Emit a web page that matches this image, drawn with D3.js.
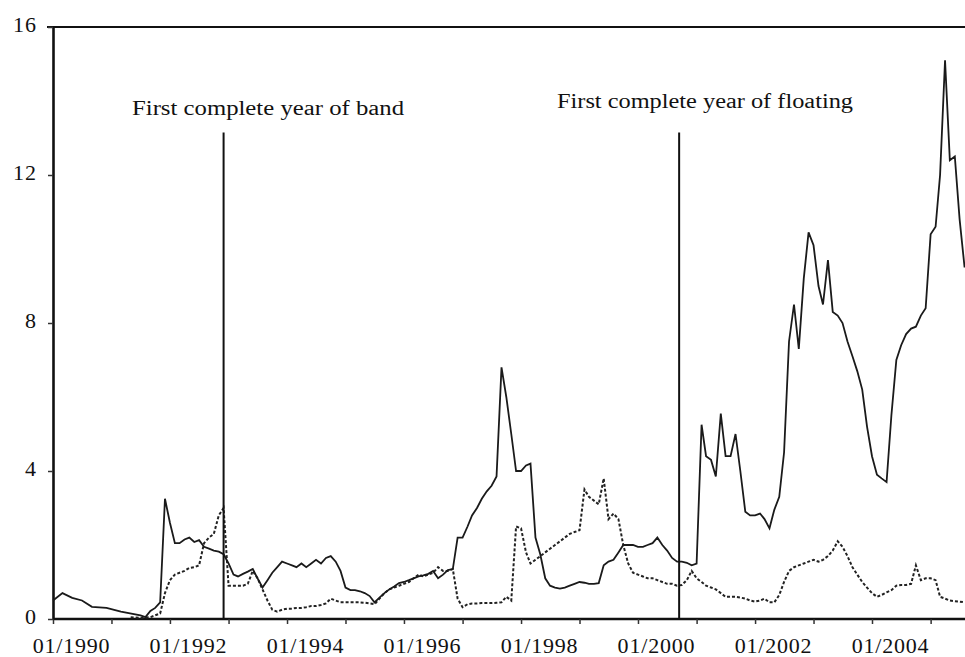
<!DOCTYPE html>
<html>
<head>
<meta charset="utf-8">
<script src="https://cdn.jsdelivr.net/npm/d3@7"></script>
<style>
  body { margin: 0; background: #fff; }
  svg { display: block; }
  svg text { font-family: "Liberation Serif", "Times New Roman", Times, serif; fill: #111; }
</style>
</head>
<body>
<svg id="chart" width="965" height="657"></svg>
<script>
// monthly readings, solid line
var solidSeries = [
  ["1990-01",0.5],["1990-03",0.7],["1990-05",0.57],["1990-07",0.5],["1990-09",0.33],["1990-12",0.3],
  ["1991-03",0.2],["1991-07",0.1],["1991-08",0.05],["1991-09",0.22],["1991-10",0.3],["1991-11",0.45],["1991-12",3.25],
  ["1992-01",2.6],["1992-02",2.05],["1992-03",2.05],["1992-04",2.15],["1992-05",2.2],["1992-06",2.08],
  ["1992-07",2.13],["1992-08",1.95],["1992-09",1.9],["1992-10",1.85],["1992-11",1.82],["1992-12",1.75],
  ["1993-01",1.5],["1993-02",1.2],["1993-03",1.15],["1993-04",1.22],["1993-05",1.28],["1993-06",1.35],
  ["1993-07",1.1],["1993-08",0.85],["1993-09",1.05],["1993-10",1.25],["1993-11",1.4],["1993-12",1.55],
  ["1994-01",1.5],["1994-02",1.45],["1994-03",1.4],["1994-04",1.5],["1994-05",1.4],["1994-06",1.5],
  ["1994-07",1.6],["1994-08",1.5],["1994-09",1.65],["1994-10",1.7],["1994-11",1.55],["1994-12",1.3],
  ["1995-01",0.85],["1995-02",0.78],["1995-03",0.78],["1995-04",0.75],["1995-05",0.7],["1995-06",0.62],
  ["1995-07",0.45],["1995-08",0.58],["1995-09",0.7],["1995-10",0.8],["1995-11",0.88],["1995-12",0.97],
  ["1996-01",1.0],["1996-02",1.05],["1996-03",1.1],["1996-04",1.15],["1996-05",1.18],["1996-06",1.22],
  ["1996-07",1.3],["1996-08",1.1],["1996-09",1.2],["1996-10",1.32],["1996-11",1.35],["1996-12",2.2],
  ["1997-01",2.2],["1997-02",2.5],["1997-03",2.8],["1997-04",3.0],["1997-05",3.25],["1997-06",3.45],
  ["1997-07",3.6],["1997-08",3.85],["1997-09",6.8],["1997-10",6.0],["1997-11",5.0],["1997-12",4.0],
  ["1998-01",4.0],["1998-02",4.15],["1998-03",4.2],["1998-04",2.2],["1998-05",1.75],["1998-06",1.1],
  ["1998-07",0.9],["1998-08",0.85],["1998-09",0.82],["1998-10",0.85],["1998-11",0.9],["1998-12",0.95],
  ["1999-01",1.0],["1999-02",0.98],["1999-03",0.95],["1999-04",0.95],["1999-05",0.97],["1999-06",1.45],
  ["1999-07",1.55],["1999-08",1.6],["1999-09",1.8],["1999-10",2.0],["1999-11",2.0],["1999-12",2.0],
  ["2000-01",1.95],["2000-02",1.95],["2000-03",2.0],["2000-04",2.05],["2000-05",2.2],["2000-06",2.0],
  ["2000-07",1.85],["2000-08",1.65],["2000-09",1.55],["2000-10",1.55],["2000-11",1.52],["2000-12",1.45],
  ["2001-01",1.5],["2001-02",5.25],["2001-03",4.4],["2001-04",4.3],["2001-05",3.85],["2001-06",5.55],
  ["2001-07",4.4],["2001-08",4.4],["2001-09",5.0],["2001-10",4.0],["2001-11",2.9],["2001-12",2.8],
  ["2002-01",2.8],["2002-02",2.85],["2002-03",2.7],["2002-04",2.45],["2002-05",2.95],["2002-06",3.3],
  ["2002-07",4.5],["2002-08",7.5],["2002-09",8.5],["2002-10",7.3],["2002-11",9.2],["2002-12",10.45],
  ["2003-01",10.1],["2003-02",9.0],["2003-03",8.5],["2003-04",9.7],["2003-05",8.3],["2003-06",8.2],
  ["2003-07",8.0],["2003-08",7.5],["2003-09",7.1],["2003-10",6.7],["2003-11",6.2],["2003-12",5.2],
  ["2004-01",4.4],["2004-02",3.9],["2004-03",3.8],["2004-04",3.7],["2004-05",5.5],["2004-06",7.0],
  ["2004-07",7.4],["2004-08",7.7],["2004-09",7.85],["2004-10",7.9],["2004-11",8.2],["2004-12",8.4],
  ["2005-01",10.4],["2005-02",10.6],["2005-03",12.0],["2005-04",15.1],["2005-05",12.4],["2005-06",12.5],
  ["2005-07",10.8],["2005-08",9.5]
];

// monthly readings, dotted line
var dottedSeries = [
  ["1991-05",0.05],["1991-07",0.03],["1991-09",0.05],["1991-11",0.15],["1991-12",0.7],
  ["1992-01",1.05],["1992-02",1.2],["1992-03",1.25],["1992-04",1.3],["1992-05",1.38],["1992-06",1.4],
  ["1992-07",1.45],["1992-08",2.05],["1992-09",2.2],["1992-10",2.3],["1992-11",2.8],["1992-12",3.0],
  ["1993-01",0.9],["1993-02",0.9],["1993-03",0.9],["1993-04",0.9],["1993-05",0.95],["1993-06",1.3],
  ["1993-07",1.1],["1993-08",0.8],["1993-09",0.5],["1993-10",0.25],["1993-11",0.2],["1993-12",0.25],
  ["1994-01",0.28],["1994-02",0.28],["1994-03",0.3],["1994-04",0.3],["1994-05",0.32],["1994-06",0.35],
  ["1994-07",0.35],["1994-08",0.38],["1994-09",0.42],["1994-10",0.55],["1994-11",0.5],["1994-12",0.45],
  ["1995-01",0.45],["1995-02",0.45],["1995-03",0.45],["1995-04",0.45],["1995-05",0.44],["1995-06",0.42],
  ["1995-07",0.4],["1995-08",0.55],["1995-09",0.7],["1995-10",0.8],["1995-11",0.85],["1995-12",0.9],
  ["1996-01",0.95],["1996-02",1.0],["1996-03",1.1],["1996-04",1.2],["1996-05",1.15],["1996-06",1.2],
  ["1996-07",1.25],["1996-08",1.4],["1996-09",1.3],["1996-10",1.3],["1996-11",1.35],["1996-12",0.55],
  ["1997-01",0.32],["1997-02",0.4],["1997-03",0.42],["1997-04",0.42],["1997-05",0.43],["1997-06",0.43],
  ["1997-07",0.43],["1997-08",0.44],["1997-09",0.45],["1997-10",0.6],["1997-11",0.5],["1997-12",2.5],
  ["1998-01",2.45],["1998-02",1.8],["1998-03",1.5],["1998-04",1.6],["1998-05",1.7],["1998-06",1.8],
  ["1998-07",1.9],["1998-08",2.0],["1998-09",2.1],["1998-10",2.2],["1998-11",2.3],["1998-12",2.35],
  ["1999-01",2.4],["1999-02",3.5],["1999-03",3.3],["1999-04",3.2],["1999-05",3.1],["1999-06",3.8],
  ["1999-07",2.7],["1999-08",2.85],["1999-09",2.7],["1999-10",2.0],["1999-11",1.5],["1999-12",1.25],
  ["2000-01",1.2],["2000-02",1.15],["2000-03",1.1],["2000-04",1.1],["2000-05",1.05],["2000-06",1.0],
  ["2000-07",0.95],["2000-08",0.95],["2000-09",0.9],["2000-10",0.92],["2000-11",1.05],["2000-12",1.3],
  ["2001-01",1.1],["2001-02",1.0],["2001-03",0.9],["2001-04",0.85],["2001-05",0.8],["2001-06",0.7],
  ["2001-07",0.6],["2001-08",0.6],["2001-09",0.6],["2001-10",0.58],["2001-11",0.55],["2001-12",0.5],
  ["2002-01",0.47],["2002-02",0.5],["2002-03",0.55],["2002-04",0.45],["2002-05",0.45],["2002-06",0.65],
  ["2002-07",1.0],["2002-08",1.3],["2002-09",1.4],["2002-10",1.45],["2002-11",1.5],["2002-12",1.55],
  ["2003-01",1.6],["2003-02",1.55],["2003-03",1.6],["2003-04",1.7],["2003-05",1.85],["2003-06",2.1],
  ["2003-07",1.95],["2003-08",1.7],["2003-09",1.4],["2003-10",1.2],["2003-11",1.0],["2003-12",0.85],
  ["2004-01",0.7],["2004-02",0.6],["2004-03",0.65],["2004-04",0.72],["2004-05",0.78],["2004-06",0.9],
  ["2004-07",0.92],["2004-08",0.92],["2004-09",0.95],["2004-10",1.45],["2004-11",1.05],["2004-12",1.1],
  ["2005-01",1.1],["2005-02",1.05],["2005-03",0.6],["2005-04",0.55],["2005-05",0.5],["2005-06",0.48],
  ["2005-07",0.47],["2005-08",0.45]
];

var yTicks = [0, 4, 8, 12, 16];
var tickYears = d3.range(1990, 2006);
var eventDates = ["1992-12-01", "2000-09-14"];
var eventLabels = ["First complete year of band", "First complete year of floating"];
var eventLineTop = 13.15;

var parseMonth = d3.timeParse("%Y-%m");
var parseDay = d3.timeParse("%Y-%m-%d");
var serif = '"Liberation Serif", "Times New Roman", Times, serif';

var svg = d3.select("#chart");

var x = d3.scaleTime()
    .domain([new Date(1990, 0, 1), new Date(2004, 0, 1)])
    .range([53, 872]);

var y = d3.scaleLinear()
    .domain([0, 16])
    .range([619, 27]);

// frame top line
svg.append("line")
    .attr("x1", 47).attr("x2", 965)
    .attr("y1", y(16)).attr("y2", y(16))
    .attr("stroke", "#111").attr("stroke-width", 2.2);

var xAxis = d3.axisBottom(x)
    .tickValues(tickYears.map(function(yr) { return new Date(yr, 0, 1); }))
    .tickFormat(function(d) {
        var yr = d.getFullYear();
        return yr % 2 == 0 ? "01/" + yr : "";
    })
    .tickSize(5)
    .tickPadding(13)
    .tickSizeOuter(0);

var gx = svg.append("g")
    .attr("transform", "translate(0," + y(0) + ")")
    .call(xAxis)
    .attr("font-family", serif);
gx.select(".domain").attr("d", "M53,0H965").attr("stroke", "#111").attr("stroke-width", 2.4);
gx.selectAll(".tick line").attr("stroke", "#333").attr("stroke-width", 1.5);
// labels sit a little right of their tick, as in the original
gx.selectAll("text")
    .attr("x", 18)
    .style("font-size", "22px")
    .style("letter-spacing", "0.8px")
    .attr("fill", "#111");

var yAxis = d3.axisLeft(y)
    .tickValues(yTicks)
    .tickSize(5)
    .tickPadding(11)
    .tickSizeOuter(0);

var gy = svg.append("g")
    .attr("transform", "translate(53,0)")
    .call(yAxis)
    .attr("font-family", serif);
gy.select(".domain").attr("stroke", "#111").attr("stroke-width", 2.6);
gy.selectAll(".tick line").attr("stroke", "#333").attr("stroke-width", 1.5);
gy.selectAll("text")
    .style("font-size", "22px")
    .style("letter-spacing", "1px")
    .attr("dy", "0.22em")
    .attr("fill", "#111");

var line = d3.line()
    .x(function(d) { return x(parseMonth(d[0])); })
    .y(function(d) { return y(d[1]); });

svg.append("path")
    .datum(dottedSeries)
    .attr("d", line)
    .attr("fill", "none")
    .attr("stroke", "#222")
    .attr("stroke-width", 2)
    .attr("stroke-dasharray", "3,2");

svg.append("path")
    .datum(solidSeries)
    .attr("d", line)
    .attr("fill", "none")
    .attr("stroke", "#1a1a1a")
    .attr("stroke-width", 1.8);

// event markers
var labelPos = [[132, 115, 272], [557, 108, 296]];
eventDates.forEach(function(ds, i) {
    var xp = x(parseDay(ds));
    svg.append("line")
        .attr("x1", xp).attr("x2", xp)
        .attr("y1", y(0)).attr("y2", y(eventLineTop))
        .attr("stroke", "#111").attr("stroke-width", 2);
    svg.append("text")
        .attr("x", labelPos[i][0])
        .attr("y", labelPos[i][1])
        .attr("textLength", labelPos[i][2])
        .attr("lengthAdjust", "spacingAndGlyphs")
        .attr("font-family", serif)
        .style("font-size", "20px")
        .text(eventLabels[i]);
});
</script>
</body>
</html>
